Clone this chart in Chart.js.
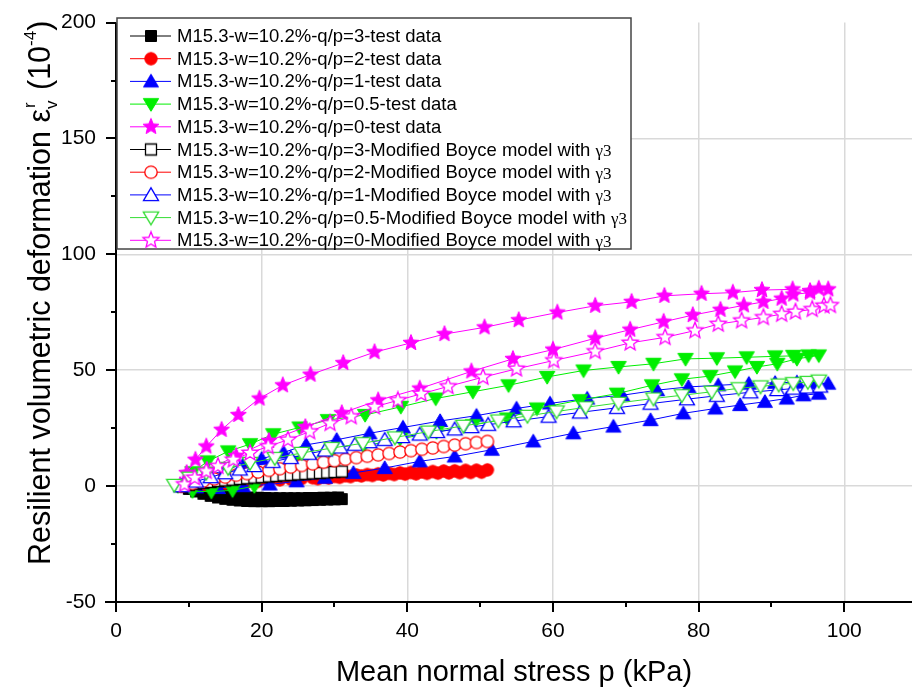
<!DOCTYPE html>
<html>
<head>
<meta charset="utf-8">
<script src="https://cdn.jsdelivr.net/npm/chart.js@4.4.1/dist/chart.umd.min.js"></script>
<style>
  html, body { margin: 0; padding: 0; background: #fff; }
  #chart { display: block; }
</style>
</head>
<body>
<canvas id="chart" width="912" height="695"></canvas>
<script>
/* ============================================
   Resilient volumetric deformation vs p
   ============================================ */

// --- data (p in kPa, deformation in 1e-4) ---
var pQ3Test = [9, 10, 11, 12, 13, 14, 15, 16, 17, 18, 19, 20, 21, 22, 23, 24, 25, 26, 27, 28, 29, 30, 31,
  30.5, 29.5, 28.5, 27.5, 26.5, 25.5, 24.5, 23.5, 22.5, 21.5, 20.5, 19.5, 18.5, 17.5, 16.5, 15.5, 14.5, 13.5, 12.5, 11.5, 10.5];
var eQ3Test = [0, -1.2, -2.3, -3.3, -4.2, -4.9, -5.5, -5.9, -6.2, -6.4, -6.5, -6.5, -6.5, -6.4, -6.4, -6.3, -6.2, -6.1, -6.0, -5.9, -5.8, -5.7, -5.6,
  -4.9, -5.0, -5.0, -5.1, -5.1, -5.2, -5.2, -5.2, -5.2, -5.2, -5.1, -5.0, -4.9, -4.7, -4.4, -4.0, -3.5, -3.0, -2.4, -1.8, -1.1];

var pQ2Test = [9, 10.5, 12, 13.5, 15, 16.5, 18, 19.5, 21, 22.5, 24, 25.5, 27, 28.5, 30, 31.5, 33, 34.5, 36, 37.5, 39, 40.5, 42, 43.5, 45, 46.5, 48, 49.5, 51,
  50.2, 48.7, 47.2, 45.7, 44.2, 42.7, 41.2, 39.7, 38.2, 36.7, 35.2, 33.7, 32.2, 30.7, 29.2, 27.7];
var eQ2Test = [0, 0.3, 0.6, 0.9, 1.2, 1.5, 1.8, 2.1, 2.4, 2.7, 3.0, 3.3, 3.6, 3.9, 4.2, 4.5, 4.8, 5.0, 5.3, 5.5, 5.7, 5.9, 6.1, 6.3, 6.5, 6.6, 6.8, 6.9, 7.0,
  6.0, 5.9, 5.8, 5.7, 5.6, 5.5, 5.3, 5.2, 5.0, 4.8, 4.6, 4.4, 4.1, 3.8, 3.5, 3.2];

var pQ1Test = [9, 11, 13, 15, 17.5, 20, 23, 26.1, 30.3, 34.8, 39.4, 44.5, 49.5, 55, 59.6, 64.7, 69.5, 74.3, 78.6, 82.7, 86.9, 90.5, 93.5, 96, 97.8,
  96.5, 94.4, 92.1, 89.1, 85.7, 82.3, 77.9, 73.4, 68.3, 62.8, 57.3, 51.6, 46.5, 41.7, 36.9, 32.6, 28.7, 24.8, 21.1, 17.4, 14, 11];
var eQ1Test = [0, 2.5, 4.8, 7, 9.5, 11.8, 14.5, 17.8, 20, 22.8, 25.3, 28.1, 30.4, 33.5, 35.7, 37.8, 39.2, 41.4, 42.8, 43.5, 44.2, 44.6, 44.8, 44.5, 44.2,
  39.9, 39.2, 37.8, 36.4, 35, 33.5, 31.4, 28.5, 25.7, 22.8, 19.3, 15.7, 12.8, 10.7, 7.8, 5.7, 3.6, 2.1, 0.7, 0, -0.8, -0.5];

var pQ05Test = [8.5, 10.5, 12.6, 15.4, 18.4, 21.6, 25.2, 29.1, 34.2, 39.1, 43.9, 49, 53.9, 59.2, 64.2, 69, 73.8, 78.2, 82.5, 86.6, 90.5, 93, 95.1, 96.5,
  93.5, 90.8, 88, 85, 81.6, 77.7, 73.6, 68.8, 63.7, 57.8, 53.7, 49, 44, 39, 34, 29.5, 25, 21.5, 19, 16, 13.1, 10.5];
var eQ05Test = [0, 6, 10.7, 15, 18.1, 22.4, 25.3, 28.5, 30.7, 34.2, 37.8, 40.7, 43.5, 47.1, 49.9, 51.4, 52.8, 54.9, 55.2, 55.6, 56, 56.2, 56.4, 56.4,
  54.9, 52.8, 51.4, 49.5, 47.5, 46.1, 43.5, 39.9, 37.1, 33.5, 29.2, 26.3, 23.3, 20.4, 17.2, 14, 10.5, 5.5, 0, -1.8, -2.4, -2.2];

var pQ0Test = [8.8, 9.7, 10.9, 12.4, 14.5, 16.8, 19.7, 22.9, 26.7, 31.2, 35.5, 40.5, 45.1, 50.6, 55.3, 60.6, 65.8, 70.8, 75.3, 80.4, 84.7, 88.7, 92.9, 95.3, 96.5, 97.8,
  95.3, 93, 91.4, 88.9, 86.2, 83, 79.2, 75.2, 70.6, 65.8, 60, 54.5, 48.8, 41.7, 36, 31, 26, 21, 16.5, 12.5];
var eQ0Test = [0.5, 5.7, 11.4, 17.1, 24.3, 30.7, 37.8, 43.5, 48.1, 53.1, 57.8, 61.8, 65.6, 68.5, 71.6, 74.9, 77.8, 79.5, 82.1, 83, 83.5, 84.6, 84.9, 84.2, 85.2, 84.9,
  83.5, 82.7, 80.9, 79.5, 78, 76.1, 73.8, 70.9, 67.5, 63.8, 58.9, 54.9, 49.5, 42.1, 37, 31.5, 25.5, 19.5, 13, 7];

var pQ3Model = [9, 10, 11, 12, 13, 14, 15, 16, 17, 18, 19, 20, 21, 22, 23, 24, 25, 26, 27, 28, 29, 30, 31];
var eQ3Model = [0, 0.5, 1.0, 1.4, 1.8, 2.2, 2.5, 2.8, 3.1, 3.4, 3.7, 3.9, 4.2, 4.4, 4.7, 4.9, 5.1, 5.3, 5.5, 5.7, 5.9, 6.1, 6.3];

var pQ2Model = [9, 10.5, 12, 13.5, 15, 16.5, 18, 19.5, 21, 22.5, 24, 25.5, 27, 28.5, 30, 31.5, 33, 34.5, 36, 37.5, 39, 40.5, 42, 43.5, 45, 46.5, 48, 49.5, 51];
var eQ2Model = [0, 1.2, 2.2, 3.1, 3.9, 4.7, 5.4, 6.1, 6.8, 7.5, 8.2, 8.9, 9.6, 10.3, 11.0, 11.6, 12.3, 12.9, 13.5, 14.1, 14.7, 15.3, 15.9, 16.5, 17.1, 17.7, 18.3, 18.8, 19.3];

var pQ1Model = [9, 11, 13, 15, 17, 19, 21.5, 24, 26.5, 28.7, 30.8, 32.8, 34.8, 36.9, 39.3, 41.7, 44.1, 46.5, 48.8, 51.1, 54.6, 59.4, 63.7, 68.8, 73.4, 78.4, 82.5, 87.1, 90.8, 93, 94.9, 96.7];
var eQ1Model = [0, 2, 3.9, 5.6, 7.2, 8.7, 10.5, 12.2, 14.0, 15.4, 16.7, 17.9, 19.0, 20.0, 21.2, 22.3, 23.4, 24.5, 25.5, 26.5, 28.0, 30.0, 31.8, 33.8, 35.6, 37.5, 39.0, 40.5, 41.5, 42.1, 42.6, 43.0];

var pQ05Model = [8, 10.1, 12.4, 15.4, 18.4, 21.8, 25.5, 29.6, 33.9, 38.3, 42.9, 47.7, 52.5, 56.5, 60.5, 64.5, 69, 73.8, 77.7, 81.8, 85.5, 88.5, 91, 93, 95, 96.5];
var eQ05Model = [0.5, 3.6, 5.7, 7.8, 10, 12.1, 14.3, 16.4, 18.5, 21, 23.5, 26, 28.3, 30.3, 32.2, 34, 35.9, 37.8, 39.2, 40.7, 42.2, 43.0, 43.8, 44.4, 44.9, 45.5];

var pQ0Model = [9.4, 10.8, 12.4, 14, 16.1, 18.4, 20.9, 23.6, 26.6, 29.4, 32.3, 35.5, 38.7, 41.9, 45.6, 50.4, 55, 60.1, 65.8, 70.6, 75.4, 79.5, 82.7, 85.9, 88.9, 91.4, 93.3, 95.6, 97.2, 98.1];
var eQ0Model = [0.7, 3.6, 6.4, 8.6, 11.4, 14.3, 17.1, 20, 23.5, 27.1, 30, 34.2, 37, 39.8, 43, 47, 50.6, 54.2, 58.1, 61.8, 64.2, 67.1, 69.9, 71.4, 72.8, 74.2, 75.2, 76.3, 77.8, 78];

var seriesLabels = [
  'M15.3-w=10.2%-q/p=3-test data',
  'M15.3-w=10.2%-q/p=2-test data',
  'M15.3-w=10.2%-q/p=1-test data',
  'M15.3-w=10.2%-q/p=0.5-test data',
  'M15.3-w=10.2%-q/p=0-test data',
  'M15.3-w=10.2%-q/p=3-Modified Boyce model with γ3',
  'M15.3-w=10.2%-q/p=2-Modified Boyce model with γ3',
  'M15.3-w=10.2%-q/p=1-Modified Boyce model with γ3',
  'M15.3-w=10.2%-q/p=0.5-Modified Boyce model with γ3',
  'M15.3-w=10.2%-q/p=0-Modified Boyce model with γ3'
];
var seriesP = [pQ3Test, pQ2Test, pQ1Test, pQ05Test, pQ0Test, pQ3Model, pQ2Model, pQ1Model, pQ05Model, pQ0Model];
var seriesE = [eQ3Test, eQ2Test, eQ1Test, eQ05Test, eQ0Test, eQ3Model, eQ2Model, eQ1Model, eQ05Model, eQ0Model];

var xTicks = [0, 20, 40, 60, 80, 100];
var yTicks = [-50, 0, 50, 100, 150, 200];

// --- styles ---
var colors = ['#000000', '#ff0000', '#0000ff', '#00ee00', '#ff00ff', '#000000', '#ff0000', '#0000ff', '#33dd33', '#ff00ff'];
var shapes = ['square', 'circle', 'triangle', 'invtriangle', 'star', 'square', 'circle', 'triangle', 'invtriangle', 'star'];
var filled = [true, true, true, true, true, false, false, false, false, false];
var SANS = '"Liberation Sans", Arial, Helvetica, sans-serif';
var SERIF = '"Liberation Serif", "Times New Roman", serif';

function tracePath(g, shape, cx, cy) {
  var k, a, rr;
  if (shape === 'square') {
    g.rect(cx - 5.5, cy - 5.5, 11, 11);
  } else if (shape === 'circle') {
    g.arc(cx, cy, 6.2, 0, Math.PI * 2);
  } else if (shape === 'triangle') {
    g.moveTo(cx, cy - 7.2);
    g.lineTo(cx + 7.5, cy + 5.6);
    g.lineTo(cx - 7.5, cy + 5.6);
    g.closePath();
  } else if (shape === 'invtriangle') {
    g.moveTo(cx, cy + 7.2);
    g.lineTo(cx + 7.7, cy - 5.6);
    g.lineTo(cx - 7.7, cy - 5.6);
    g.closePath();
  } else if (shape === 'star') {
    for (k = 0; k < 10; k++) {
      a = -Math.PI / 2 + k * Math.PI / 5;
      rr = k % 2 ? 3.7 : 8.4;
      if (k === 0) g.moveTo(cx + rr * Math.cos(a), cy + rr * Math.sin(a));
      else g.lineTo(cx + rr * Math.cos(a), cy + rr * Math.sin(a));
    }
    g.closePath();
  }
}

function markerCanvas(shape, color, isFilled) {
  var c = document.createElement('canvas');
  c.width = 20;
  c.height = 20;
  var g = c.getContext('2d');
  g.beginPath();
  tracePath(g, shape, 10, 10);
  g.fillStyle = isFilled ? color : '#ffffff';
  g.fill();
  g.lineWidth = isFilled ? 1 : 1.3;
  g.strokeStyle = color;
  g.stroke();
  return c;
}

var markers = shapes.map(function (s, i) { return markerCanvas(s, colors[i], filled[i]); });

var datasets = seriesLabels.map(function (label, i) {
  return {
    label: label,
    data: seriesP[i].map(function (p, k) { return { x: p, y: seriesE[i][k] }; }),
    showLine: true,
    borderColor: colors[i],
    borderWidth: 1,
    tension: 0,
    fill: false,
    pointStyle: markers[i],
    pointRadius: 7,
    pointHoverRadius: 7,
    order: 10 - i
  };
});

// --- axes, ticks, titles and legend drawn on top ---
var decorPlugin = {
  id: 'decor',
  afterDatasetsDraw: function (chart) {
    var ctx = chart.ctx;
    var area = chart.chartArea;
    var xs = chart.scales.x, ys = chart.scales.y;
    var v, px, py, len;

    ctx.save();
    ctx.strokeStyle = '#000';
    ctx.lineWidth = 2;
    ctx.beginPath();
    ctx.moveTo(area.left, area.top);
    ctx.lineTo(area.left, area.bottom);
    ctx.moveTo(area.left - 11, area.bottom);
    ctx.lineTo(area.right, area.bottom);
    ctx.stroke();

    // major + minor ticks, outward
    ctx.beginPath();
    for (v = 0; v <= 100; v += 10) {
      px = Math.round(xs.getPixelForValue(v));
      len = v % 20 === 0 ? 10 : 5;
      ctx.moveTo(px, area.bottom);
      ctx.lineTo(px, area.bottom + len);
    }
    for (v = -50; v <= 200; v += 25) {
      py = Math.round(ys.getPixelForValue(v));
      len = v % 50 === 0 ? 10 : 5;
      ctx.moveTo(area.left, py);
      ctx.lineTo(area.left - len, py);
    }
    ctx.stroke();
    ctx.restore();

    drawYTitle(ctx);
    drawLegend(ctx, chart);
  }
};

function drawYTitle(ctx) {
  var x = 0;
  ctx.save();
  ctx.translate(50, 565);
  ctx.rotate(-Math.PI / 2);
  ctx.fillStyle = '#000';
  ctx.textBaseline = 'alphabetic';
  ctx.textAlign = 'left';
  ctx.font = '30.5px ' + SANS;
  var main = 'Resilient volumetric deformation ';
  ctx.fillText(main, x, 0);
  x += ctx.measureText(main).width;
  ctx.fillText('ε', x, 0);
  x += ctx.measureText('ε').width;
  ctx.font = '17px ' + SANS;
  ctx.fillText('r', x + 1, -15);
  ctx.fillText('v', x, 7);
  x += ctx.measureText('v').width + 2;
  ctx.font = '30.5px ' + SANS;
  ctx.fillText(' (10', x, 0);
  x += ctx.measureText(' (10').width;
  ctx.font = '17px ' + SANS;
  ctx.fillText('-4', x, -14);
  x += ctx.measureText('-4').width;
  ctx.font = '30.5px ' + SANS;
  ctx.fillText(')', x, 0);
  ctx.restore();
}

function drawLegend(ctx, chart) {
  var left = 117, top = 18, right = 631, bottom = 249;
  var rowY0 = 36, rowStep = 22.7;
  ctx.save();
  ctx.fillStyle = '#fff';
  ctx.fillRect(left, top, right - left, bottom - top);
  ctx.strokeStyle = '#444';
  ctx.lineWidth = 1.5;
  ctx.strokeRect(left, top, right - left, bottom - top);

  chart.data.datasets.forEach(function (ds, i) {
    var y = rowY0 + i * rowStep;
    ctx.strokeStyle = colors[i];
    ctx.lineWidth = 1;
    ctx.beginPath();
    ctx.moveTo(130, y);
    ctx.lineTo(171, y);
    ctx.stroke();
    ctx.drawImage(markers[i], 151 - 10, y - 10);

    ctx.fillStyle = '#000';
    ctx.textBaseline = 'middle';
    ctx.textAlign = 'left';
    var label = ds.label;
    var tail = '';
    if (label.slice(-2) === 'γ3') {
      tail = 'γ3';
      label = label.slice(0, -2);
    }
    ctx.font = '18.5px ' + SANS;
    ctx.fillText(label, 177, y + 1);
    if (tail) {
      var w = ctx.measureText(label).width;
      ctx.font = '17px ' + SERIF;
      ctx.fillText(tail, 177 + w, y + 2);
    }
  });
  ctx.restore();
}

var ctx = document.getElementById('chart').getContext('2d');
new Chart(ctx, {
  type: 'scatter',
  data: { datasets: datasets },
  options: {
    responsive: false,
    animation: false,
    layout: { autoPadding: false, padding: { top: 18, right: 0, bottom: 0, left: 0 } },
    scales: {
      x: {
        type: 'linear',
        min: 0,
        max: 109.3,
        afterFit: function (scale) { scale.height = 93; },
        border: { display: false },
        grid: {
          drawTicks: true,
          tickLength: 10,
          tickColor: 'rgba(0,0,0,0)',
          lineWidth: 1.5,
          color: function (c) {
            var v = c.tick && c.tick.value;
            return xTicks.indexOf(v) > 0 ? '#d9d9d9' : 'rgba(0,0,0,0)';
          }
        },
        ticks: {
          stepSize: 10,
          autoSkip: false,
          includeBounds: false,
          maxRotation: 0,
          padding: 7,
          color: '#000',
          font: { size: 21, family: SANS },
          callback: function (v) { return xTicks.indexOf(v) >= 0 ? String(v) : ''; }
        },
        title: {
          display: true,
          text: 'Mean normal stress p (kPa)',
          color: '#000',
          font: { size: 29, family: SANS },
          padding: { top: 0, bottom: 5 }
        }
      },
      y: {
        type: 'linear',
        min: -50,
        max: 200,
        afterFit: function (scale) { scale.width = 116; },
        border: { display: false },
        grid: {
          drawTicks: true,
          tickLength: 10,
          tickColor: 'rgba(0,0,0,0)',
          lineWidth: 1.5,
          color: function (c) {
            var v = c.tick && c.tick.value;
            return (v === 0 || v === 50 || v === 100 || v === 150) ? '#d9d9d9' : 'rgba(0,0,0,0)';
          }
        },
        ticks: {
          stepSize: 25,
          autoSkip: false,
          padding: 10,
          color: '#000',
          font: { size: 21, family: SANS },
          callback: function (v) { return yTicks.indexOf(v) >= 0 ? String(v) : ''; }
        }
      }
    },
    plugins: {
      legend: { display: false },
      tooltip: { enabled: false }
    }
  },
  plugins: [decorPlugin]
});
</script>
</body>
</html>
